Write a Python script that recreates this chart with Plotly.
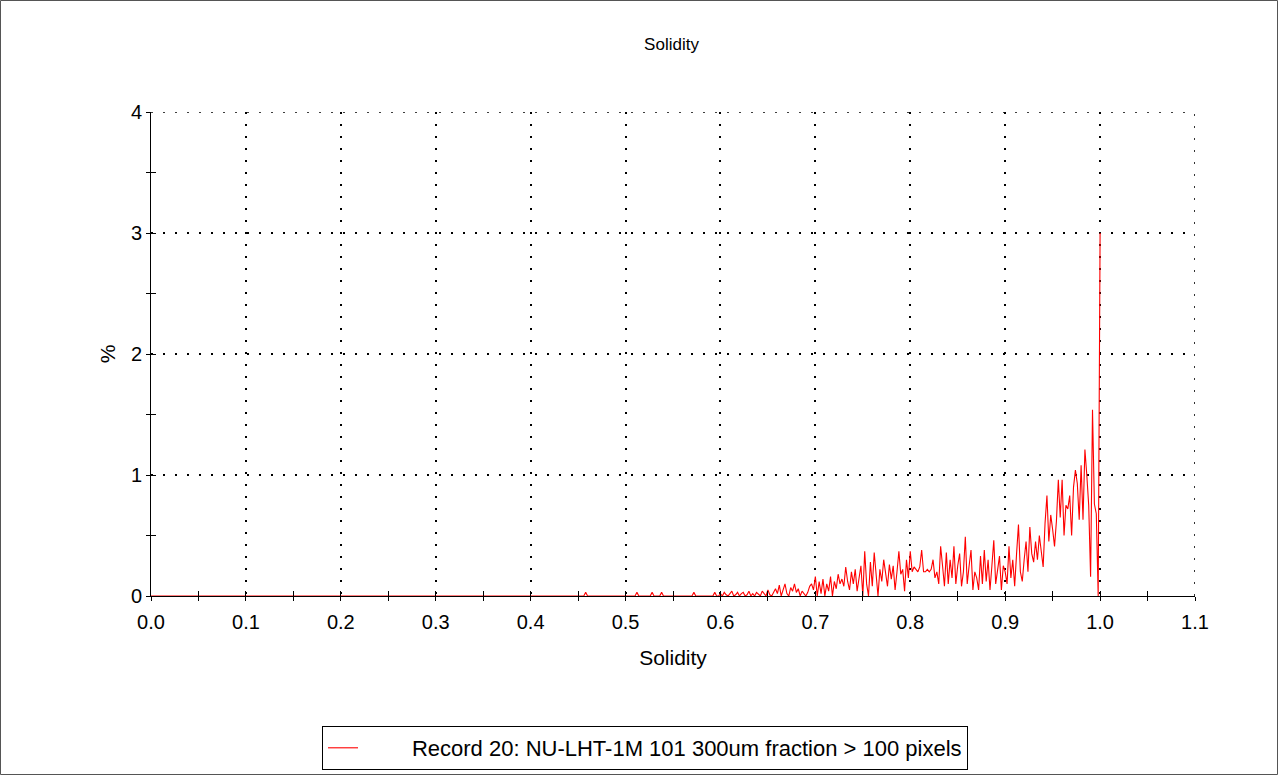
import numpy as np
import plotly.graph_objects as go

# ---- data: % of particles per solidity bin (bin width 0.002) ----
BIN_WIDTH = 0.002
pct_000_448 = [0.0] * 225  # flat zero region 0.000 .. 0.448
pct_045 = [0.0, 0.0, 0.0, 0.0, 0.03, 0.0, 0.0, 0.0, 0.0, 0.0]
pct_047 = [0.0] * 10
pct_049 = [0.0] * 10
pct_051 = [0.0, 0.03, 0.0, 0.0, 0.0, 0.0, 0.0, 0.0, 0.0, 0.03]
pct_053 = [0.0, 0.0, 0.0, 0.0, 0.03, 0.0, 0.0, 0.0, 0.0, 0.0]
pct_055 = [0.0] * 10
pct_057 = [0.0, 0.03, 0.0, 0.0, 0.0, 0.0, 0.0, 0.0, 0.0, 0.0]
pct_059 = [0.0, 0.0, 0.03, 0.0, 0.0]
pct_060 = [0.02, 0.0, 0.03, 0.01, 0.0, 0.02, 0.04, 0.0, 0.01, 0.03]
pct_062 = [0.0, 0.02, 0.03, 0.0, 0.01, 0.04, 0.0, 0.02, 0.0, 0.03]
pct_064 = [0.01, 0.0, 0.04, 0.02, 0.0, 0.05, 0.01, 0.0, 0.03, 0.06]
pct_066 = [0.02, 0.09, 0.0, 0.05, 0.1, 0.02, 0.0, 0.07, 0.04, 0.1]
pct_068 = [0.03, 0.06, 0.0, 0.04, 0.02, 0.0, 0.03, 0.08, 0.1, 0.05]
pct_070 = [0.16, 0.0, 0.12, 0.02, 0.14, 0.0, 0.1, 0.04, 0.16, 0.0]
pct_072 = [0.12, 0.06, 0.18, 0.1, 0.14, 0.08, 0.24, 0.12, 0.05, 0.2]
pct_074 = [0.1, 0.22, 0.04, 0.15, 0.25, 0.0, 0.37, 0.1, 0.0, 0.28]
pct_076 = [0.08, 0.36, 0.15, 0.0, 0.22, 0.12, 0.3, 0.18, 0.08, 0.26]
pct_078 = [0.14, 0.25, 0.05, 0.2, 0.37, 0.18, 0.22, 0.04, 0.3, 0.15]
pct_080 = [0.37, 0.2, 0.24, 0.22, 0.2, 0.24, 0.38, 0.2, 0.2, 0.22]
pct_082 = [0.2, 0.22, 0.3, 0.15, 0.2, 0.1, 0.41, 0.25, 0.08, 0.36]
pct_084 = [0.1, 0.3, 0.15, 0.41, 0.1, 0.25, 0.35, 0.08, 0.2, 0.49]
pct_086 = [0.1, 0.25, 0.38, 0.05, 0.2, 0.15, 0.05, 0.33, 0.1, 0.38]
pct_088 = [0.12, 0.3, 0.05, 0.25, 0.46, 0.1, 0.2, 0.33, 0.05, 0.25]
pct_090 = [0.2, 0.1, 0.41, 0.15, 0.3, 0.08, 0.35, 0.59, 0.2, 0.12]
pct_092 = [0.3, 0.45, 0.2, 0.57, 0.35, 0.28, 0.45, 0.3, 0.5, 0.38]
pct_094 = [0.24, 0.6, 0.83, 0.45, 0.67, 0.55, 0.41, 0.62, 0.96, 0.65]
pct_096 = [0.96, 0.5, 0.75, 0.72, 0.83, 0.5, 0.9, 1.04, 0.93, 0.63]
pct_098 = [1.08, 0.63, 1.21, 1.0, 0.75, 0.16, 1.54, 0.76, 0.68, 0.0]
pct_100 = [3.0]

percent = (pct_000_448 + pct_045 + pct_047 + pct_049 + pct_051 + pct_053 + pct_055
           + pct_057 + pct_059 + pct_060 + pct_062 + pct_064 + pct_066 + pct_068
           + pct_070 + pct_072 + pct_074 + pct_076 + pct_078 + pct_080 + pct_082
           + pct_084 + pct_086 + pct_088 + pct_090 + pct_092 + pct_094 + pct_096
           + pct_098 + pct_100)
solidity = np.round(np.arange(len(percent)) * BIN_WIDTH, 3)

series_name = "Record 20: NU-LHT-1M 101 300um fraction > 100 pixels"
x_ticks = [0.0, 0.1, 0.2, 0.3, 0.4, 0.5, 0.6, 0.7, 0.8, 0.9, 1.0, 1.1]
y_ticks = [0, 1, 2, 3, 4]
X_RANGE = [0, 1.1]
Y_RANGE = [0, 4]

FONT = "Liberation Sans, Arial, sans-serif"
W, H = 1279, 776
ML, MR, MT, MB = 151, 84, 112, 180
DOT = "2px,10px"

fig = go.Figure()
fig.add_trace(go.Scatter(
    x=solidity, y=percent, mode="lines", name="\u00a0" * 8 + series_name,
    line=dict(color="#ff0000", width=1.1), showlegend=True,
))

grid = dict(showgrid=True, gridcolor="#000000", gridwidth=1.6, griddash=DOT)
fig.update_layout(
    width=W, height=H,
    margin=dict(l=ML, r=MR, t=MT, b=MB, pad=0),
    paper_bgcolor="white", plot_bgcolor="white",
    font=dict(family=FONT, size=21, color="black"),
    title=dict(text="Solidity", x=(W / 2 + 32) / W, xref="container", xanchor="center",
               y=1 - 44 / H, yref="container", yanchor="middle",
               font=dict(family=FONT, size=17)),
    xaxis=dict(range=X_RANGE, tickvals=x_ticks, ticktext=[f"{v:.1f}" for v in x_ticks],
               showline=True, linecolor="black", linewidth=1, zeroline=False,
               ticks="outside", ticklen=4, tickcolor="black", ticklabelstandoff=4,
               tickfont=dict(size=20), layer="below traces",
               minor=dict(dtick=0.05, tick0=0, ticks="outside", ticklen=4, tickcolor="black", showgrid=False),
               title=dict(text="Solidity", standoff=18, font=dict(size=21)), **grid),
    yaxis=dict(range=Y_RANGE, tickvals=y_ticks,
               showline=True, linecolor="black", linewidth=1, zeroline=False,
               ticks="outside", ticklen=4, tickcolor="black",
               tickfont=dict(size=20),
               minor=dict(dtick=0.5, tick0=0, ticks="outside", ticklen=4, tickcolor="black", showgrid=False),
               title=dict(text="%", standoff=9, font=dict(size=21)), **grid),
    xaxis2=dict(range=X_RANGE, overlaying="x", anchor="y", side="bottom", tickvals=x_ticks,
                showticklabels=False, showgrid=False, zeroline=False, showline=False,
                ticks="inside", ticklen=5, tickcolor="black",
                minor=dict(dtick=0.05, tick0=0, ticks="inside", ticklen=5, tickcolor="black")),
    yaxis2=dict(range=Y_RANGE, overlaying="y", anchor="x", side="left", tickvals=y_ticks,
                showticklabels=False, showgrid=False, zeroline=False, showline=False,
                ticks="inside", ticklen=5, tickcolor="black",
                minor=dict(dtick=0.5, tick0=0, ticks="inside", ticklen=5, tickcolor="black")),
    legend=dict(orientation="h", xref="container", yref="container",
                x=645 / W, xanchor="center", y=1 - 726 / H, yanchor="top",
                bordercolor="black", borderwidth=1, bgcolor="white",
                font=dict(size=22), itemwidth=30),
)
# invisible trace so the overlay (tick) axes render
fig.add_trace(go.Scatter(x=[0], y=[0], xaxis="x2", yaxis="y2", mode="markers",
                         marker=dict(opacity=0), showlegend=False, hoverinfo="skip"))

# grid lines on the far edges (plotly hides grid lines on the plot edge)
fig.add_shape(type="line", xref="x", yref="y", x0=X_RANGE[0], x1=X_RANGE[1], y0=Y_RANGE[1], y1=Y_RANGE[1],
              line=dict(color="black", width=1.6, dash=DOT), layer="below")
fig.add_shape(type="line", xref="x", yref="y", x0=X_RANGE[1], x1=X_RANGE[1], y0=Y_RANGE[0], y1=Y_RANGE[1],
              line=dict(color="black", width=1.6, dash=DOT), layer="below")

# outer frame around the whole image
pw, ph = W - ML - MR, H - MT - MB
fig.add_shape(type="rect", xref="paper", yref="paper",
              x0=-(ML - 0.5) / pw, x1=1 + (MR - 1.5) / pw,
              y0=-(MB - 1.5) / ph, y1=1 + (MT - 0.5) / ph,
              line=dict(color="#555555", width=1), layer="below")

fig.write_html("out.html", config={"displayModeBar": False},
               post_script="document.body.style.margin='0';document.body.style.overflow='hidden';")
